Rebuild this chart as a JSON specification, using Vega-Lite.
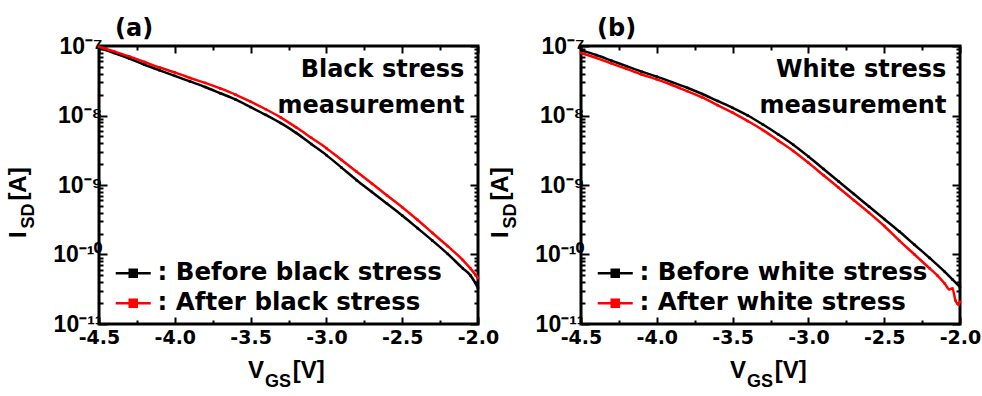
{
  "$schema": "https://vega.github.io/schema/vega-lite/v6.json",
  "padding": {"left": 5, "top": 15, "right": 5, "bottom": 2},
  "background": "white",
  "config": {
    "view": {"stroke": "black", "strokeWidth": 3},
    "axis": {"domain": false, "grid": false, "tickColor": "black", "labelColor": "black", "tickWidth": 2, "labelFontWeight": "bold", "labelFlush": false, "labelOverlap": false},
    "title": {"font": "DejaVu Sans", "fontSize": 24, "fontWeight": "bold", "anchor": "start", "frame": "group", "dx": 16, "offset": -6, "color": "black"},
    "text": {"color": "black"}
  },
  "datasets": {
    "a": [
      {"v": -4.5, "i": 9.33e-8, "s": "Before black stress"},
      {"v": -4.4, "i": 7.94e-8, "s": "Before black stress"},
      {"v": -4.3, "i": 6.61e-8, "s": "Before black stress"},
      {"v": -4.2, "i": 5.37e-8, "s": "Before black stress"},
      {"v": -4.1, "i": 4.47e-8, "s": "Before black stress"},
      {"v": -4.0, "i": 3.72e-8, "s": "Before black stress"},
      {"v": -3.9, "i": 3.09e-8, "s": "Before black stress"},
      {"v": -3.8, "i": 2.57e-8, "s": "Before black stress"},
      {"v": -3.7, "i": 2.09e-8, "s": "Before black stress"},
      {"v": -3.6, "i": 1.70e-8, "s": "Before black stress"},
      {"v": -3.5, "i": 1.32e-8, "s": "Before black stress"},
      {"v": -3.4, "i": 1.02e-8, "s": "Before black stress"},
      {"v": -3.3, "i": 7.76e-9, "s": "Before black stress"},
      {"v": -3.2, "i": 5.62e-9, "s": "Before black stress"},
      {"v": -3.1, "i": 3.89e-9, "s": "Before black stress"},
      {"v": -3.0, "i": 2.69e-9, "s": "Before black stress"},
      {"v": -2.9, "i": 1.78e-9, "s": "Before black stress"},
      {"v": -2.8, "i": 1.17e-9, "s": "Before black stress"},
      {"v": -2.7, "i": 7.94e-10, "s": "Before black stress"},
      {"v": -2.6, "i": 5.37e-10, "s": "Before black stress"},
      {"v": -2.5, "i": 3.63e-10, "s": "Before black stress"},
      {"v": -2.4, "i": 2.40e-10, "s": "Before black stress"},
      {"v": -2.3, "i": 1.58e-10, "s": "Before black stress"},
      {"v": -2.2, "i": 1.02e-10, "s": "Before black stress"},
      {"v": -2.1, "i": 6.31e-11, "s": "Before black stress"},
      {"v": -2.05, "i": 5.01e-11, "s": "Before black stress"},
      {"v": -2.0, "i": 3.31e-11, "s": "Before black stress"},
      {"v": -4.5, "i": 9.77e-8, "s": "After black stress"},
      {"v": -4.4, "i": 8.32e-8, "s": "After black stress"},
      {"v": -4.3, "i": 7.08e-8, "s": "After black stress"},
      {"v": -4.2, "i": 5.89e-8, "s": "After black stress"},
      {"v": -4.1, "i": 4.90e-8, "s": "After black stress"},
      {"v": -4.0, "i": 4.17e-8, "s": "After black stress"},
      {"v": -3.9, "i": 3.47e-8, "s": "After black stress"},
      {"v": -3.8, "i": 2.95e-8, "s": "After black stress"},
      {"v": -3.7, "i": 2.45e-8, "s": "After black stress"},
      {"v": -3.6, "i": 2.00e-8, "s": "After black stress"},
      {"v": -3.5, "i": 1.58e-8, "s": "After black stress"},
      {"v": -3.4, "i": 1.23e-8, "s": "After black stress"},
      {"v": -3.3, "i": 9.33e-9, "s": "After black stress"},
      {"v": -3.2, "i": 6.76e-9, "s": "After black stress"},
      {"v": -3.1, "i": 4.79e-9, "s": "After black stress"},
      {"v": -3.0, "i": 3.39e-9, "s": "After black stress"},
      {"v": -2.9, "i": 2.29e-9, "s": "After black stress"},
      {"v": -2.8, "i": 1.55e-9, "s": "After black stress"},
      {"v": -2.7, "i": 1.05e-9, "s": "After black stress"},
      {"v": -2.6, "i": 7.08e-10, "s": "After black stress"},
      {"v": -2.5, "i": 4.79e-10, "s": "After black stress"},
      {"v": -2.4, "i": 3.16e-10, "s": "After black stress"},
      {"v": -2.3, "i": 2.04e-10, "s": "After black stress"},
      {"v": -2.2, "i": 1.32e-10, "s": "After black stress"},
      {"v": -2.1, "i": 8.32e-11, "s": "After black stress"},
      {"v": -2.05, "i": 6.31e-11, "s": "After black stress"},
      {"v": -2.0, "i": 4.57e-11, "s": "After black stress"}
    ],
    "b": [
      {"v": -4.5, "i": 8.71e-8, "s": "Before white stress"},
      {"v": -4.4, "i": 7.41e-8, "s": "Before white stress"},
      {"v": -4.3, "i": 6.17e-8, "s": "Before white stress"},
      {"v": -4.2, "i": 5.13e-8, "s": "Before white stress"},
      {"v": -4.1, "i": 4.27e-8, "s": "Before white stress"},
      {"v": -4.0, "i": 3.63e-8, "s": "Before white stress"},
      {"v": -3.9, "i": 3.02e-8, "s": "Before white stress"},
      {"v": -3.8, "i": 2.51e-8, "s": "Before white stress"},
      {"v": -3.7, "i": 2.04e-8, "s": "Before white stress"},
      {"v": -3.6, "i": 1.62e-8, "s": "Before white stress"},
      {"v": -3.5, "i": 1.29e-8, "s": "Before white stress"},
      {"v": -3.4, "i": 1.00e-8, "s": "Before white stress"},
      {"v": -3.3, "i": 7.41e-9, "s": "Before white stress"},
      {"v": -3.2, "i": 5.37e-9, "s": "Before white stress"},
      {"v": -3.1, "i": 3.80e-9, "s": "Before white stress"},
      {"v": -3.0, "i": 2.57e-9, "s": "Before white stress"},
      {"v": -2.9, "i": 1.70e-9, "s": "Before white stress"},
      {"v": -2.8, "i": 1.12e-9, "s": "Before white stress"},
      {"v": -2.7, "i": 7.41e-10, "s": "Before white stress"},
      {"v": -2.6, "i": 4.90e-10, "s": "Before white stress"},
      {"v": -2.5, "i": 3.24e-10, "s": "Before white stress"},
      {"v": -2.4, "i": 2.14e-10, "s": "Before white stress"},
      {"v": -2.3, "i": 1.38e-10, "s": "Before white stress"},
      {"v": -2.2, "i": 8.91e-11, "s": "Before white stress"},
      {"v": -2.1, "i": 5.62e-11, "s": "Before white stress"},
      {"v": -2.05, "i": 4.37e-11, "s": "Before white stress"},
      {"v": -2.0, "i": 3.39e-11, "s": "Before white stress"},
      {"v": -4.5, "i": 7.94e-8, "s": "After white stress"},
      {"v": -4.4, "i": 6.76e-8, "s": "After white stress"},
      {"v": -4.3, "i": 5.62e-8, "s": "After white stress"},
      {"v": -4.2, "i": 4.68e-8, "s": "After white stress"},
      {"v": -4.1, "i": 3.89e-8, "s": "After white stress"},
      {"v": -4.0, "i": 3.31e-8, "s": "After white stress"},
      {"v": -3.9, "i": 2.75e-8, "s": "After white stress"},
      {"v": -3.8, "i": 2.24e-8, "s": "After white stress"},
      {"v": -3.7, "i": 1.82e-8, "s": "After white stress"},
      {"v": -3.6, "i": 1.41e-8, "s": "After white stress"},
      {"v": -3.5, "i": 1.10e-8, "s": "After white stress"},
      {"v": -3.4, "i": 8.32e-9, "s": "After white stress"},
      {"v": -3.3, "i": 6.17e-9, "s": "After white stress"},
      {"v": -3.2, "i": 4.37e-9, "s": "After white stress"},
      {"v": -3.1, "i": 3.09e-9, "s": "After white stress"},
      {"v": -3.0, "i": 2.09e-9, "s": "After white stress"},
      {"v": -2.9, "i": 1.38e-9, "s": "After white stress"},
      {"v": -2.8, "i": 9.12e-10, "s": "After white stress"},
      {"v": -2.7, "i": 6.03e-10, "s": "After white stress"},
      {"v": -2.6, "i": 3.98e-10, "s": "After white stress"},
      {"v": -2.5, "i": 2.57e-10, "s": "After white stress"},
      {"v": -2.4, "i": 1.58e-10, "s": "After white stress"},
      {"v": -2.3, "i": 1.00e-10, "s": "After white stress"},
      {"v": -2.2, "i": 6.31e-11, "s": "After white stress"},
      {"v": -2.15, "i": 5.01e-11, "s": "After white stress"},
      {"v": -2.1, "i": 3.80e-11, "s": "After white stress"},
      {"v": -2.07, "i": 3.16e-11, "s": "After white stress"},
      {"v": -2.05, "i": 3.24e-11, "s": "After white stress"},
      {"v": -2.03, "i": 2.19e-11, "s": "After white stress"},
      {"v": -2.01, "i": 1.91e-11, "s": "After white stress"},
      {"v": -2.0, "i": 2.09e-11, "s": "After white stress"}
    ]
  },
  "spacing": -14,
  "resolve": {"scale": {"stroke": "independent", "fill": "independent"}, "legend": {"stroke": "independent", "fill": "independent"}},
  "hconcat": [
    {
      "title": {"text": "(a)"},
      "width": 379,
      "height": 278,
      "resolve": {"axis": {"x": "independent", "y": "independent"}},
      "layer": [
        {
          "data": {"name": "a"},
          "mark": {"type": "line", "strokeWidth": 2.5, "interpolate": "monotone"},
          "encoding": {
            "x": {"field": "v", "type": "quantitative", "scale": {"domain": [-4.5, -2.0], "nice": false, "zero": false},
              "axis": {"orient": "bottom", "title": null, "values": [-4.5, -4.25, -4.0, -3.75, -3.5, -3.25, -3.0, -2.75, -2.5, -2.25, -2.0],
                "labelExpr": "abs(datum.value*2-round(datum.value*2))<0.001 ? replace(format(datum.value,'.1f'),'\u2212','-') : ''",
                "tickSize": {"condition": {"test": "abs(datum.value*2-round(datum.value*2))<0.001", "value": -7}, "value": -4},
                "labelFont": "DejaVu Sans", "labelFontSize": 19, "labelPadding": 11}},
            "y": {"field": "i", "type": "quantitative", "scale": {"type": "log", "domain": [1e-11, 1e-7], "nice": false},
              "axis": {"orient": "left", "title": null, "values": [1e-11,2e-11,3e-11,4e-11,5e-11,6e-11,7e-11,8e-11,9e-11,1e-10,2e-10,3e-10,4e-10,5e-10,6e-10,7e-10,8e-10,9e-10,1e-9,2e-9,3e-9,4e-9,5e-9,6e-9,7e-9,8e-9,9e-9,1e-8,2e-8,3e-8,4e-8,5e-8,6e-8,7e-8,8e-8,9e-8,1e-7],
                "labelExpr": "abs(log(datum.value)/LN10-round(log(datum.value)/LN10))<0.001 ? '10' + ['\u207b\u2077','\u207b\u2078','\u207b\u2079','\u207b\u00b9\u2070','\u207b\u00b9\u00b9'][-7-round(log(datum.value)/LN10)] : ''",
                "tickSize": {"condition": {"test": "abs(log(datum.value)/LN10-round(log(datum.value)/LN10))<0.001", "value": -8}, "value": -4},
                "labelFont": "Liberation Sans", "labelFontSize": 23, "labelPadding": 5}},
            "stroke": {"field": "s", "type": "nominal", "scale": {"domain": ["Before black stress", "After black stress"], "range": ["#000000", "#ff0000"]},
              "legend": {"orient": "bottom-left", "title": null, "labelExpr": "': ' + datum.label", "symbolType": "M-1.75,0H1.75M-0.35,-0.35H0.35V0.35H-0.35Z", "symbolSize": 400, "symbolStrokeWidth": 2.5, "labelFont": "DejaVu Sans", "labelFontSize": 24.5, "labelFontWeight": "bold", "labelColor": "black", "offset": 9, "padding": 0, "rowPadding": 5, "symbolOffset": 13, "labelOffset": 12, "labelLimit": 400}}
          }
        },
        {
          "data": {"name": "a"},
          "mark": {"type": "point", "shape": "square", "filled": true, "size": 6, "opacity": 1},
          "encoding": {
            "x": {"field": "v", "type": "quantitative",
              "axis": {"orient": "top", "title": null, "labels": false, "values": [-4.5, -4.25, -4.0, -3.75, -3.5, -3.25, -3.0, -2.75, -2.5, -2.25, -2.0],
                "tickSize": {"condition": {"test": "abs(datum.value*2-round(datum.value*2))<0.001", "value": -7}, "value": -4}}},
            "y": {"field": "i", "type": "quantitative",
              "axis": {"orient": "right", "title": null, "labels": false, "values": [1e-11,2e-11,3e-11,4e-11,5e-11,6e-11,7e-11,8e-11,9e-11,1e-10,2e-10,3e-10,4e-10,5e-10,6e-10,7e-10,8e-10,9e-10,1e-9,2e-9,3e-9,4e-9,5e-9,6e-9,7e-9,8e-9,9e-9,1e-8,2e-8,3e-8,4e-8,5e-8,6e-8,7e-8,8e-8,9e-8,1e-7],
                "tickSize": {"condition": {"test": "abs(log(datum.value)/LN10-round(log(datum.value)/LN10))<0.001", "value": -8}, "value": -4}}},
            "fill": {"field": "s", "type": "nominal", "scale": {"domain": ["Before black stress", "After black stress"], "range": ["#000000", "#ff0000"]},
              "legend": {"orient": "bottom-left", "title": null, "labelExpr": "': ' + datum.label", "symbolType": "M-1.75,0H1.75M-0.35,-0.35H0.35V0.35H-0.35Z", "symbolSize": 400, "symbolStrokeWidth": 2.5, "labelFont": "DejaVu Sans", "labelFontSize": 24.5, "labelFontWeight": "bold", "labelColor": "black", "offset": 9, "padding": 0, "rowPadding": 5, "symbolOffset": 13, "labelOffset": 12, "labelLimit": 400}}
          }
        },
        {
          "data": {"values": [{"t": "Black stress\nmeasurement"}]},
          "mark": {"type": "text", "align": "right", "baseline": "alphabetic", "font": "DejaVu Sans", "fontWeight": "bold", "fontSize": 24, "lineBreak": "\n", "lineHeight": 36},
          "encoding": {"x": {"datum": -2.09, "axis": null}, "y": {"datum": 3.6e-8, "axis": null}, "text": {"field": "t"}}
        },
        {
          "data": {"values": [{"t": "I\u2002\u2002\u00a0[A]"}]},
          "mark": {"type": "text", "align": "left", "baseline": "alphabetic", "angle": 270, "font": "Liberation Sans", "fontWeight": "bold", "fontSize": 24},
          "encoding": {"x": {"datum": -4.982, "axis": null}, "y": {"datum": 1.73e-10, "axis": null}, "text": {"field": "t"}}
        },
        {
          "data": {"values": [{"t": "SD"}]},
          "mark": {"type": "text", "align": "center", "baseline": "alphabetic", "angle": 270, "font": "Liberation Sans", "fontWeight": "bold", "fontSize": 18},
          "encoding": {"x": {"datum": -4.929, "axis": null}, "y": {"datum": 3.58e-10, "axis": null}, "text": {"field": "t"}}
        },
        {
          "data": {"values": [{"t": "V\u2002\u2002\u2009[V]"}]},
          "mark": {"type": "text", "align": "left", "baseline": "alphabetic", "font": "Liberation Sans", "fontWeight": "bold", "fontSize": 24},
          "encoding": {"x": {"datum": -3.517, "axis": null}, "y": {"datum": 1.67e-12, "axis": null}, "text": {"field": "t"}}
        },
        {
          "data": {"values": [{"t": "GS"}]},
          "mark": {"type": "text", "align": "left", "baseline": "alphabetic", "font": "Liberation Sans", "fontWeight": "bold", "fontSize": 18},
          "encoding": {"x": {"datum": -3.405, "axis": null}, "y": {"datum": 1.24e-12, "axis": null}, "text": {"field": "t"}}
        }
      ]
    },
    {
      "title": {"text": "(b)"},
      "width": 379,
      "height": 278,
      "resolve": {"axis": {"x": "independent", "y": "independent"}},
      "layer": [
        {
          "data": {"name": "b"},
          "mark": {"type": "line", "strokeWidth": 2.5, "interpolate": "monotone"},
          "encoding": {
            "x": {"field": "v", "type": "quantitative", "scale": {"domain": [-4.5, -2.0], "nice": false, "zero": false},
              "axis": {"orient": "bottom", "title": null, "values": [-4.5, -4.25, -4.0, -3.75, -3.5, -3.25, -3.0, -2.75, -2.5, -2.25, -2.0],
                "labelExpr": "abs(datum.value*2-round(datum.value*2))<0.001 ? replace(format(datum.value,'.1f'),'\u2212','-') : ''",
                "tickSize": {"condition": {"test": "abs(datum.value*2-round(datum.value*2))<0.001", "value": -7}, "value": -4},
                "labelFont": "DejaVu Sans", "labelFontSize": 19, "labelPadding": 11}},
            "y": {"field": "i", "type": "quantitative", "scale": {"type": "log", "domain": [1e-11, 1e-7], "nice": false},
              "axis": {"orient": "left", "title": null, "values": [1e-11,2e-11,3e-11,4e-11,5e-11,6e-11,7e-11,8e-11,9e-11,1e-10,2e-10,3e-10,4e-10,5e-10,6e-10,7e-10,8e-10,9e-10,1e-9,2e-9,3e-9,4e-9,5e-9,6e-9,7e-9,8e-9,9e-9,1e-8,2e-8,3e-8,4e-8,5e-8,6e-8,7e-8,8e-8,9e-8,1e-7],
                "labelExpr": "abs(log(datum.value)/LN10-round(log(datum.value)/LN10))<0.001 ? '10' + ['\u207b\u2077','\u207b\u2078','\u207b\u2079','\u207b\u00b9\u2070','\u207b\u00b9\u00b9'][-7-round(log(datum.value)/LN10)] : ''",
                "tickSize": {"condition": {"test": "abs(log(datum.value)/LN10-round(log(datum.value)/LN10))<0.001", "value": -8}, "value": -4},
                "labelFont": "Liberation Sans", "labelFontSize": 23, "labelPadding": 5}},
            "stroke": {"field": "s", "type": "nominal", "scale": {"domain": ["Before white stress", "After white stress"], "range": ["#000000", "#ff0000"]},
              "legend": {"orient": "bottom-left", "title": null, "labelExpr": "': ' + datum.label", "symbolType": "M-1.75,0H1.75M-0.35,-0.35H0.35V0.35H-0.35Z", "symbolSize": 400, "symbolStrokeWidth": 2.5, "labelFont": "DejaVu Sans", "labelFontSize": 24.5, "labelFontWeight": "bold", "labelColor": "black", "offset": 9, "padding": 0, "rowPadding": 5, "symbolOffset": 13, "labelOffset": 12, "labelLimit": 400}}
          }
        },
        {
          "data": {"name": "b"},
          "mark": {"type": "point", "shape": "square", "filled": true, "size": 6, "opacity": 1},
          "encoding": {
            "x": {"field": "v", "type": "quantitative",
              "axis": {"orient": "top", "title": null, "labels": false, "values": [-4.5, -4.25, -4.0, -3.75, -3.5, -3.25, -3.0, -2.75, -2.5, -2.25, -2.0],
                "tickSize": {"condition": {"test": "abs(datum.value*2-round(datum.value*2))<0.001", "value": -7}, "value": -4}}},
            "y": {"field": "i", "type": "quantitative",
              "axis": {"orient": "right", "title": null, "labels": false, "values": [1e-11,2e-11,3e-11,4e-11,5e-11,6e-11,7e-11,8e-11,9e-11,1e-10,2e-10,3e-10,4e-10,5e-10,6e-10,7e-10,8e-10,9e-10,1e-9,2e-9,3e-9,4e-9,5e-9,6e-9,7e-9,8e-9,9e-9,1e-8,2e-8,3e-8,4e-8,5e-8,6e-8,7e-8,8e-8,9e-8,1e-7],
                "tickSize": {"condition": {"test": "abs(log(datum.value)/LN10-round(log(datum.value)/LN10))<0.001", "value": -8}, "value": -4}}},
            "fill": {"field": "s", "type": "nominal", "scale": {"domain": ["Before white stress", "After white stress"], "range": ["#000000", "#ff0000"]},
              "legend": {"orient": "bottom-left", "title": null, "labelExpr": "': ' + datum.label", "symbolType": "M-1.75,0H1.75M-0.35,-0.35H0.35V0.35H-0.35Z", "symbolSize": 400, "symbolStrokeWidth": 2.5, "labelFont": "DejaVu Sans", "labelFontSize": 24.5, "labelFontWeight": "bold", "labelColor": "black", "offset": 9, "padding": 0, "rowPadding": 5, "symbolOffset": 13, "labelOffset": 12, "labelLimit": 400}}
          }
        },
        {
          "data": {"values": [{"t": "White stress\nmeasurement"}]},
          "mark": {"type": "text", "align": "right", "baseline": "alphabetic", "font": "DejaVu Sans", "fontWeight": "bold", "fontSize": 24, "lineBreak": "\n", "lineHeight": 36},
          "encoding": {"x": {"datum": -2.09, "axis": null}, "y": {"datum": 3.6e-8, "axis": null}, "text": {"field": "t"}}
        },
        {
          "data": {"values": [{"t": "I\u2002\u2002\u00a0[A]"}]},
          "mark": {"type": "text", "align": "left", "baseline": "alphabetic", "angle": 270, "font": "Liberation Sans", "fontWeight": "bold", "fontSize": 24},
          "encoding": {"x": {"datum": -4.982, "axis": null}, "y": {"datum": 1.73e-10, "axis": null}, "text": {"field": "t"}}
        },
        {
          "data": {"values": [{"t": "SD"}]},
          "mark": {"type": "text", "align": "center", "baseline": "alphabetic", "angle": 270, "font": "Liberation Sans", "fontWeight": "bold", "fontSize": 18},
          "encoding": {"x": {"datum": -4.929, "axis": null}, "y": {"datum": 3.58e-10, "axis": null}, "text": {"field": "t"}}
        },
        {
          "data": {"values": [{"t": "V\u2002\u2002\u2009[V]"}]},
          "mark": {"type": "text", "align": "left", "baseline": "alphabetic", "font": "Liberation Sans", "fontWeight": "bold", "fontSize": 24},
          "encoding": {"x": {"datum": -3.517, "axis": null}, "y": {"datum": 1.67e-12, "axis": null}, "text": {"field": "t"}}
        },
        {
          "data": {"values": [{"t": "GS"}]},
          "mark": {"type": "text", "align": "left", "baseline": "alphabetic", "font": "Liberation Sans", "fontWeight": "bold", "fontSize": 18},
          "encoding": {"x": {"datum": -3.405, "axis": null}, "y": {"datum": 1.24e-12, "axis": null}, "text": {"field": "t"}}
        }
      ]
    }
  ]
}
